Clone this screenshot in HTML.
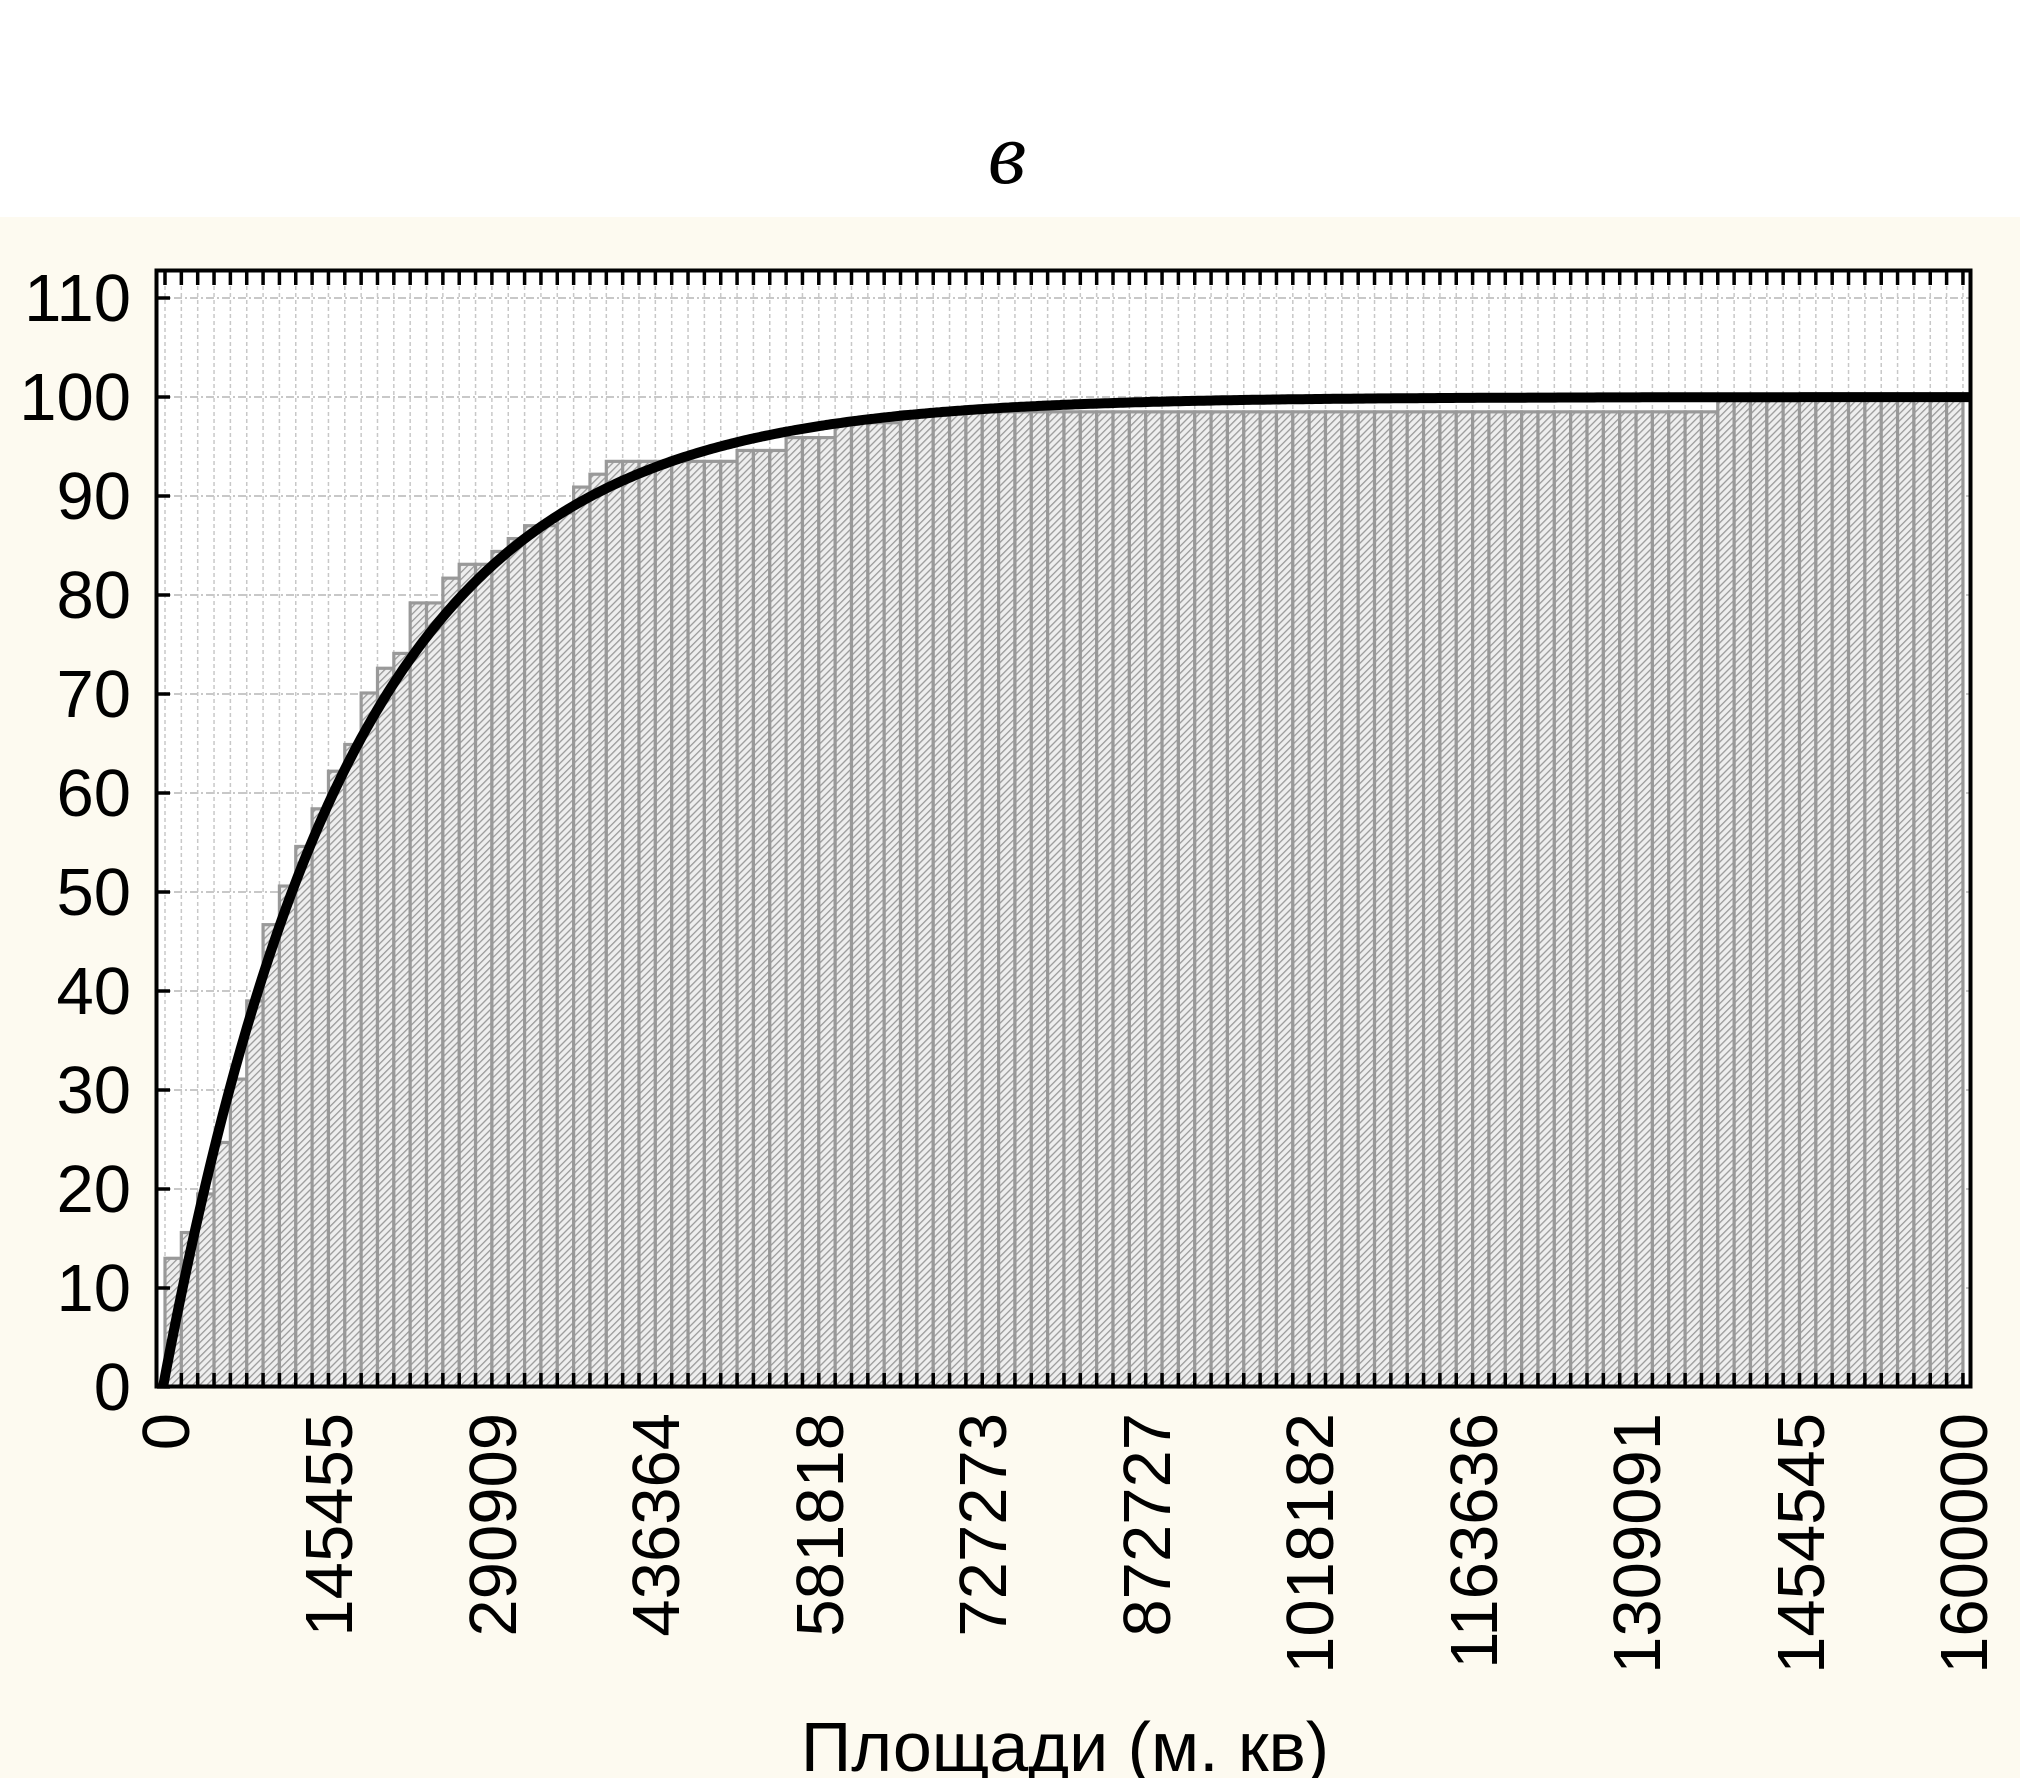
<!DOCTYPE html>
<html><head><meta charset="utf-8">
<style>
html,body{margin:0;padding:0;background:#fff;}
svg{display:block;}
</style></head>
<body>
<svg id="s" width="2020" height="1778" viewBox="0 0 2020 1778" xmlns="http://www.w3.org/2000/svg">
<defs>
<pattern id="h" width="5" height="5" patternUnits="userSpaceOnUse" patternTransform="rotate(45)">
<rect width="5" height="5" fill="#eeeeee"/>
<rect x="0" y="0" width="1.3" height="5" fill="#9a9a9a"/>
</pattern>
</defs>
<rect x="0" y="0" width="2020" height="217" fill="#ffffff"/>
<rect x="0" y="217" width="2020" height="1561" fill="#fdfaf0"/>
<rect x="155" y="269" width="1817" height="1119" fill="#ffffff"/>
<g id="grid"></g>
<g id="bars"></g>
<path id="curve" fill="none" stroke="#000" stroke-width="10" stroke-linejoin="round"/>
<g id="ticks"></g>
<rect x="156.5" y="270.5" width="1814" height="1116" fill="none" stroke="#000" stroke-width="4"/>
<text x="1007" y="183" font-family="Liberation Serif, serif" font-style="italic" font-size="88" text-anchor="middle">в</text>
<g font-family="Liberation Sans, sans-serif" font-size="67" text-anchor="end">
<text x="131" y="321">110</text>
<text x="131" y="420">100</text>
<text x="131" y="519">90</text>
<text x="131" y="618">80</text>
<text x="131" y="717">70</text>
<text x="131" y="816">60</text>
<text x="131" y="915">50</text>
<text x="131" y="1014">40</text>
<text x="131" y="1113">30</text>
<text x="131" y="1212">20</text>
<text x="131" y="1311">10</text>
<text x="131" y="1410">0</text>
</g>
<g font-family="Liberation Sans, sans-serif" font-size="67" text-anchor="end">
<text transform="translate(189,1413) rotate(-90)">0</text>
<text transform="translate(352,1413) rotate(-90)">145455</text>
<text transform="translate(516,1413) rotate(-90)">290909</text>
<text transform="translate(679,1413) rotate(-90)">436364</text>
<text transform="translate(843,1413) rotate(-90)">581818</text>
<text transform="translate(1006,1413) rotate(-90)">727273</text>
<text transform="translate(1170,1413) rotate(-90)">872727</text>
<text transform="translate(1333,1413) rotate(-90)">1018182</text>
<text transform="translate(1497,1413) rotate(-90)">1163636</text>
<text transform="translate(1660,1413) rotate(-90)">1309091</text>
<text transform="translate(1824,1413) rotate(-90)">1454545</text>
<text transform="translate(1987,1413) rotate(-90)">1600000</text>
</g>
<text x="1065" y="1771" font-family="Liberation Sans, sans-serif" font-size="70" text-anchor="middle">Площади (м. кв)</text>
</svg>
<script>
(function(){
var NS="http://www.w3.org/2000/svg";
function el(p,n,a){var e=document.createElementNS(NS,n);for(var k in a)e.setAttribute(k,a[k]);p.appendChild(e);return e;}
var x0=165,bw=16.345,y0=1387,k=9.9;
var v=[13.0,15.6,19.5,24.7,31.1,39.0,46.7,50.6,54.6,58.4,62.2,64.9,70.1,72.6,74.1,79.2,79.2,81.7,83.1,83.1,84.4,85.7,87.0,87.0,88.3,90.9,92.2];
var i;
for(i=0;i<8;i++)v.push(93.5);
for(i=0;i<3;i++)v.push(94.6);
for(i=0;i<3;i++)v.push(95.9);
for(i=0;i<4;i++)v.push(97.4);
for(i=0;i<50;i++)v.push(98.5);
for(i=0;i<15;i++)v.push(99.8);
var g=document.getElementById('grid');
for(i=0;i<=110;i++){var x=x0+i*bw;el(g,'line',{x1:x,y1:272,x2:x,y2:1385,stroke:'#c8c8c8','stroke-width':1.5,'stroke-dasharray':'4,3'});}
for(i=1;i<=11;i++){var y=y0-i*10*k;el(g,'line',{x1:158,y1:y,x2:1970,y2:y,stroke:'#c8c8c8','stroke-width':2,'stroke-dasharray':'8,3,2,3'});}
var b=document.getElementById('bars');
for(i=0;i<v.length;i++){var x=x0+i*bw,h=v[i]*k;el(b,'rect',{x:x,y:y0-h,width:bw,height:h,fill:'url(#h)',stroke:'#999999','stroke-width':3.2});}
var t=document.getElementById('ticks');
for(i=0;i<=110;i++){var x=x0+i*bw;el(t,'line',{x1:x,y1:271,x2:x,y2:285,stroke:'#000','stroke-width':3.5});el(t,'line',{x1:x,y1:1386,x2:x,y2:1373,stroke:'#000','stroke-width':3.5});}
for(i=0;i<=11;i++){var y=y0-i*10*k;el(t,'line',{x1:157,y1:y,x2:170,y2:y,stroke:'#000','stroke-width':3.5});}
var d='',lam=186;
for(var px=0;px<=1806;px+=3){var val=100*(1-Math.exp(-px/lam));d+=(px?'L':'M')+(163+px).toFixed(1)+','+(y0-val*k).toFixed(1);}
document.getElementById('curve').setAttribute('d',d);
})();
</script>
</body></html>
